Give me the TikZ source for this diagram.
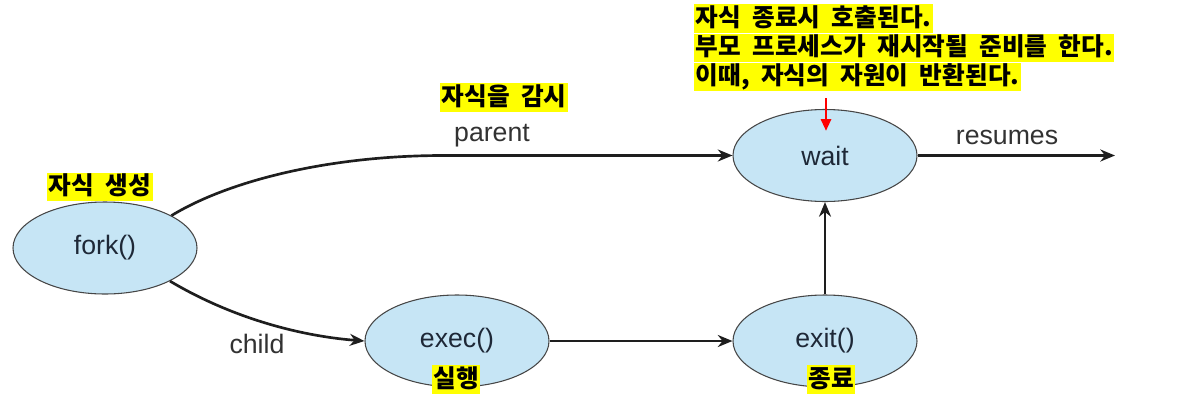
\documentclass[tikz,border=0pt]{standalone}
\usepackage{fontspec}
\setmainfont{Liberation Sans}
\newfontfamily\kr{Noto Sans CJK KR}[WordSpace=2]
\usetikzlibrary{shapes.geometric,arrows.meta}
\definecolor{ellfill}{RGB}{198,229,245}
\definecolor{elldraw}{RGB}{70,70,70}
\definecolor{elltext}{RGB}{30,40,55}
\definecolor{lbltext}{RGB}{50,50,50}
\definecolor{hly}{RGB}{255,255,0}
\tikzset{
  proc/.style={ellipse, draw=elldraw, line width=0.8pt, fill=ellfill, minimum width=138pt, minimum height=69pt, inner sep=0pt, text=elltext, font=\fontsize{20}{22}\selectfont},
  conn/.style={line width=2pt, draw={rgb,255:red,30;green,30;blue,30}, -{Stealth[length=11pt,width=9pt]}},
  lbl/.style={text=lbltext, font=\fontsize{20}{22}\selectfont, inner sep=0pt},
  hl/.style={fill=hly, text=black, inner xsep=1.2pt, inner ysep=1.1pt, text height=15.5pt, text depth=4pt, font=\kr\bfseries\fontsize{18.5}{20}\selectfont},
  redarr/.style={line width=2.2pt, red, -{Triangle[length=9pt,width=7.5pt]}}
}
\begin{document}
\begin{tikzpicture}[x=0.75pt,y=-0.75pt]
\useasboundingbox (0,0) rectangle (1202,411);
% ellipses
\node[proc] (fork) at (105,248) {fork()};
\node[proc] (wait) at (825,155.5) {wait};
\node[proc] (exec) at (457,341) {exec()};
\node[proc] (exit) at (825,341) {exit()};
% connectors
\coordinate (pbend) at (440,155.5);
\draw[conn] (fork.26) .. controls (230,180) and (330,156) .. (pbend) -- (wait.west);
\draw[conn] (fork.-27) .. controls (232,318) and (300,336) .. (exec.west);
\draw[conn] (exec.east) -- (exit.west);
\draw[conn] (exit.north) -- (wait.south);
\coordinate (resend) at (1115,155.5);
\draw[conn] (wait.east) -- (resend);
% labels
\node[lbl] (lparent) at (492,136) {parent};
\node[lbl] (lchild) at (257,344) {child};
\node[lbl] (lres) at (1007,137) {resumes};
% highlighted Korean notes
\node[hl, anchor=west] (h1) at (47,187) {자식 생성};
\node[hl, anchor=west] (h2) at (440,97.5) {자식을 감시};
\node[hl, anchor=west] (h3a) at (694,18.5) {자식 종료시 호출된다.};
\node[hl, anchor=west] (h3b) at (694,48) {부모 프로세스가 재시작될 준비를 한다.};
\node[hl, anchor=west] (h3c) at (694,77) {이때, 자식의 자원이 반환된다.};
\node[hl] (h4) at (456,379.5) {실행};
\node[hl] (h5) at (831,379.5) {종료};
% red arrow
\coordinate (rtop) at (826,98);
\coordinate (rbot) at (826,131);
\draw[redarr] (rtop) -- (rbot);
\end{tikzpicture}
\end{document}
